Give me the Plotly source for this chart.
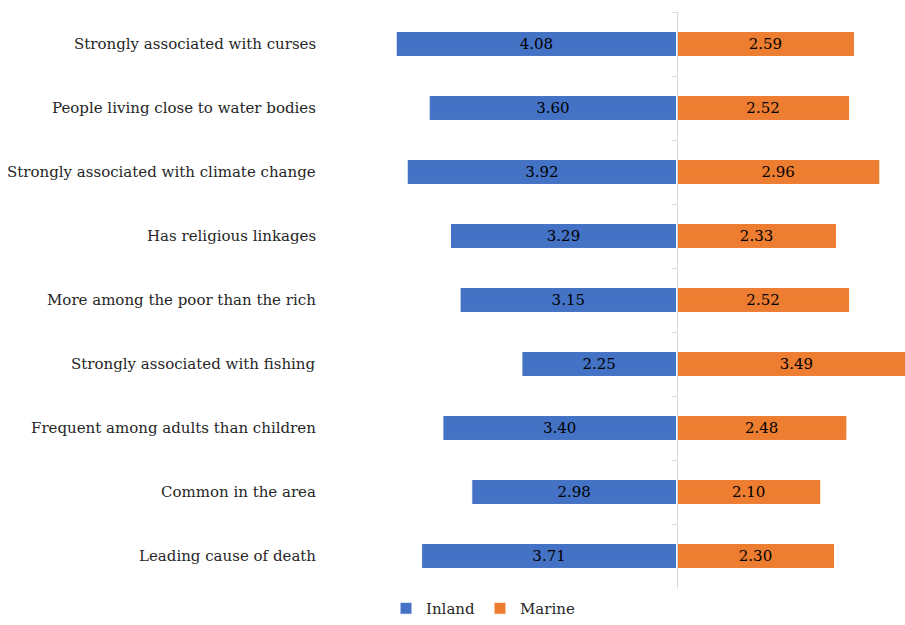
import plotly.graph_objects as go

categories = [
    "Strongly associated with curses",
    "People living close to water bodies",
    "Strongly associated with climate change",
    "Has religious linkages",
    "More among the poor than the rich",
    "Strongly associated with fishing",
    "Frequent among adults than children",
    "Common in the area",
    "Leading cause of death",
]
inland = [4.08, 3.60, 3.92, 3.29, 3.15, 2.25, 3.40, 2.98, 3.71]
marine = [2.59, 2.52, 2.96, 2.33, 2.52, 3.49, 2.48, 2.10, 2.30]

FONT = "DejaVu Serif"
W, H = 905, 625
ZERO_PX = 676.5
PX_PER_UNIT = 68.7
x_min = -ZERO_PX / PX_PER_UNIT
x_max = (W - ZERO_PX) / PX_PER_UNIT
label_x = (318 - ZERO_PX) / PX_PER_UNIT

fig = go.Figure()
fig.add_trace(go.Bar(
    name="Inland", y=categories, x=[-v for v in inland], orientation="h",
    text=[f"{v:.2f}" for v in inland], textposition="inside",
    insidetextanchor="middle", width=0.39, constraintext="none",
    marker=dict(color="#4472C4", line=dict(color="white", width=1)),
    textfont=dict(family=FONT, size=15, color="black"),
    hoverinfo="skip",
))
fig.add_trace(go.Bar(
    name="Marine", y=categories, x=marine, orientation="h",
    text=[f"{v:.2f}" for v in marine], textposition="inside",
    insidetextanchor="middle", width=0.39, constraintext="none",
    marker=dict(color="#ED7D31", line=dict(color="white", width=1)),
    textfont=dict(family=FONT, size=15, color="black"),
    hoverinfo="skip",
))

# category labels, right-aligned in the left part of the plot
for c in categories:
    fig.add_annotation(x=label_x, y=c, xref="x", yref="y", text=c,
                       showarrow=False, xanchor="right", yanchor="middle",
                       font=dict(family=FONT, size=15, color="#262626"))

fig.update_layout(
    width=W, height=H, barmode="relative",
    margin=dict(l=0, r=0, t=12, b=37, autoexpand=False),
    plot_bgcolor="white", paper_bgcolor="white",
    xaxis=dict(range=[x_min, x_max], visible=False, fixedrange=True),
    yaxis=dict(
        type="category", autorange="reversed", anchor="free",
        position=ZERO_PX / W, showticklabels=False, showgrid=False,
        showline=True, linecolor="#D9D9D9", linewidth=1,
        ticks="outside", tickson="boundaries", ticklen=5,
        tickcolor="#D9D9D9", zeroline=False,
    ),
    legend=dict(orientation="h", x=483 / W, xanchor="center",
                yref="container", y=-0.01, yanchor="bottom",
                font=dict(family=FONT, size=15, color="#262626"),
                itemwidth=30),
    showlegend=True,
)

fig.write_html("out.html")
